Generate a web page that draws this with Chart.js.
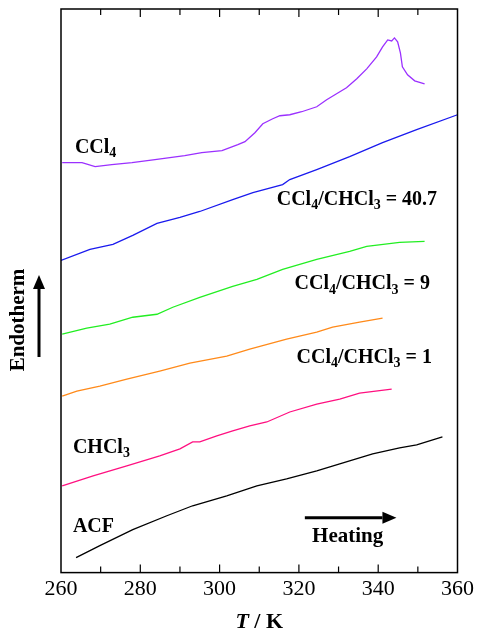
<!DOCTYPE html>
<html>
<head>
<meta charset="utf-8">
<script src="https://cdn.jsdelivr.net/npm/chart.js@4.4.1/dist/chart.umd.min.js"></script>
<style>
  html, body { margin: 0; padding: 0; background: #fff; }
  #wrap { width: 477px; height: 635px; }
</style>
</head>
<body>
<div id="wrap"><canvas id="dsc"></canvas></div>
<script>
// DSC heating curves, arbitrary heat-flow units (curves offset vertically)
const ccl4T = [260.3, 265.3, 268.6, 272.8, 277.9, 283.7, 291.2, 295.5, 300.6, 304.6, 306.4, 308.9, 310.9, 313.4, 315.2, 317.7, 320.7, 324.5, 327.0, 329.5, 332.0, 334.6, 337.1, 339.6, 341.1, 342.4, 343.4, 344.1, 344.9, 345.6, 346.1, 347.4, 349.2, 351.7];
const ccl4Y = [41.1, 41.1, 40.7, 40.9, 41.1, 41.4, 41.8, 42.1, 42.3, 42.9, 43.2, 44.1, 45.0, 45.5, 45.8, 45.9, 46.2, 46.7, 47.4, 48.0, 48.6, 49.5, 50.5, 51.7, 52.7, 53.4, 53.3, 53.6, 53.2, 52.1, 50.7, 49.9, 49.3, 49.0];

const r407T = [260, 267.3, 273.1, 278.1, 284.2, 290.0, 295.0, 303.3, 308.4, 315.9, 317.7, 324.5, 332.8, 341.1, 349.7, 360];
const r407Y = [31.3, 32.4, 32.9, 33.8, 35.0, 35.6, 36.2, 37.4, 38.1, 38.9, 39.4, 40.4, 41.7, 43.1, 44.4, 45.9];

const r9T = [260.3, 266.5, 272.3, 278.1, 284.2, 288.2, 295.0, 303.3, 309.4, 315.9, 324.5, 332.8, 337.1, 345.4, 351.7];
const r9Y = [23.9, 24.5, 24.9, 25.6, 25.9, 26.6, 27.6, 28.7, 29.4, 30.4, 31.4, 32.2, 32.7, 33.1, 33.2];

const r1T = [260.3, 264.0, 269.8, 276.6, 284.9, 292.5, 301.8, 307.6, 316.9, 324.5, 328.5, 335.3, 341.1];
const r1Y = [17.7, 18.2, 18.7, 19.4, 20.2, 21.0, 21.7, 22.4, 23.4, 24.1, 24.6, 25.1, 25.5];

const chcl3T = [260.3, 268.1, 276.6, 284.9, 290.0, 293.2, 295.0, 299.3, 303.3, 307.6, 311.9, 317.7, 324.5, 330.3, 335.3, 343.4];
const chcl3Y = [8.7, 9.7, 10.7, 11.7, 12.4, 13.1, 13.1, 13.7, 14.2, 14.7, 15.1, 16.1, 16.9, 17.4, 18.0, 18.4];

const acfT = [263.8, 269.8, 278.1, 286.7, 293.2, 301.8, 309.4, 316.9, 324.5, 330.3, 338.6, 345.4, 349.7, 356.2];
const acfY = [1.5, 2.7, 4.3, 5.7, 6.7, 7.7, 8.7, 9.4, 10.2, 10.9, 11.9, 12.5, 12.8, 13.6];

const xTicks = [260, 280, 300, 320, 340, 360];

const series = [
  { name: 'CCl4', t: ccl4T, y: ccl4Y, color: '#9b30ff' },
  { name: 'CCl4/CHCl3 = 40.7', t: r407T, y: r407Y, color: '#1a1aee' },
  { name: 'CCl4/CHCl3 = 9', t: r9T, y: r9Y, color: '#22ee22' },
  { name: 'CCl4/CHCl3 = 1', t: r1T, y: r1Y, color: '#ff8a1a' },
  { name: 'CHCl3', t: chcl3T, y: chcl3Y, color: '#ff1080' },
  { name: 'ACF', t: acfT, y: acfY, color: '#000000' }
];

// curve labels: [x (K), y, text parts]  parts: [text, isSubscript]
const labels = [
  [263.5, 42.6, [['CCl', 0], ['4', 1]]],
  [314.4, 37.4, [['CCl', 0], ['4', 1], ['/CHCl', 0], ['3', 1], [' = 40.7', 0]]],
  [318.9, 28.9, [['CCl', 0], ['4', 1], ['/CHCl', 0], ['3', 1], [' = 9', 0]]],
  [319.4, 21.5, [['CCl', 0], ['4', 1], ['/CHCl', 0], ['3', 1], [' = 1', 0]]],
  [263.0, 12.5, [['CHCl', 0], ['3', 1]]],
  [263.0, 4.6, [['ACF', 0]]]
];

const SERIF = '"Liberation Serif", "DejaVu Serif", serif';

function drawParts(ctx, x, y, parts, size) {
  let cx = x;
  parts.forEach(p => {
    ctx.font = 'bold ' + (p[1] ? Math.round(size * 0.68) : size) + 'px ' + SERIF;
    ctx.fillText(p[0], cx, p[1] ? y + size * 0.28 : y);
    cx += ctx.measureText(p[0]).width;
  });
}

function arrow(ctx, x1, y1, x2, y2) {
  const a = Math.atan2(y2 - y1, x2 - x1);
  const hl = 14, hw = 6;
  const bx = x2 - hl * Math.cos(a), by = y2 - hl * Math.sin(a);
  ctx.beginPath();
  ctx.moveTo(x1, y1);
  ctx.lineTo(bx, by);
  ctx.lineWidth = 3;
  ctx.stroke();
  ctx.beginPath();
  ctx.moveTo(x2, y2);
  ctx.lineTo(bx + hw * Math.sin(a), by - hw * Math.cos(a));
  ctx.lineTo(bx - hw * Math.sin(a), by + hw * Math.cos(a));
  ctx.closePath();
  ctx.fill();
}

const decor = {
  id: 'decor',
  afterDraw(chart) {
    const ctx = chart.ctx;
    const xs = chart.scales.x, ys = chart.scales.y;
    const a = chart.chartArea;
    ctx.save();
    ctx.strokeStyle = '#000';
    ctx.fillStyle = '#000';
    // frame
    ctx.lineWidth = 1.5;
    ctx.strokeRect(a.left, a.top, a.right - a.left, a.bottom - a.top);
    // inward ticks every 10 K, top and bottom
    ctx.lineWidth = 1.2;
    for (let t = 270; t < 360; t += 10) {
      const px = xs.getPixelForValue(t);
      const len = (t % 20 === 0) ? 8 : 6;
      ctx.beginPath();
      ctx.moveTo(px, a.bottom); ctx.lineTo(px, a.bottom - len);
      ctx.moveTo(px, a.top); ctx.lineTo(px, a.top + len);
      ctx.stroke();
    }
    // curve labels
    ctx.textBaseline = 'middle';
    ctx.textAlign = 'left';
    labels.forEach(l => drawParts(ctx, xs.getPixelForValue(l[0]), ys.getPixelForValue(l[1]), l[2], 20));
    // heating arrow
    arrow(ctx, xs.getPixelForValue(321.5), ys.getPixelForValue(5.5), xs.getPixelForValue(344.6), ys.getPixelForValue(5.5));
    ctx.textAlign = 'center';
    ctx.font = 'bold 21px ' + SERIF;
    ctx.fillText('Heating', xs.getPixelForValue(332.3), ys.getPixelForValue(3.6));
    // endotherm
    arrow(ctx, 39, 357, 39, 275);
    ctx.save();
    ctx.translate(19, 320);
    ctx.rotate(-Math.PI / 2);
    ctx.font = 'bold 21px ' + SERIF;
    ctx.fillText('Endotherm', 0, 0);
    ctx.restore();
    // x-axis title: T / K
    ctx.textAlign = 'left';
    ctx.font = 'bold italic 22px ' + SERIF;
    const wT = ctx.measureText('T').width;
    ctx.font = 'bold 22px ' + SERIF;
    const wR = ctx.measureText(' / K').width;
    const cx = (a.left + a.right) / 2 - (wT + wR) / 2;
    ctx.font = 'bold italic 22px ' + SERIF;
    ctx.fillText('T', cx, 622);
    ctx.font = 'bold 22px ' + SERIF;
    ctx.fillText(' / K', cx + wT, 622);
    ctx.restore();
  }
};

new Chart(document.getElementById('dsc'), {
  type: 'line',
  data: {
    datasets: series.map(s => ({
      label: s.name,
      data: s.t.map((t, i) => ({ x: t, y: s.y[i] })),
      borderColor: s.color,
      borderWidth: 1.3,
      pointRadius: 0,
      tension: 0,
      fill: false
    }))
  },
  options: {
    responsive: true,
    maintainAspectRatio: false,
    animation: false,
    layout: { padding: { left: 61, top: 9, right: 19, bottom: 30 } },
    plugins: { legend: { display: false }, tooltip: { enabled: false } },
    scales: {
      x: {
        type: 'linear',
        min: 260,
        max: 360,
        afterBuildTicks: s => { s.ticks = xTicks.map(v => ({ value: v })); },
        ticks: { color: '#000', padding: 3, font: { family: SERIF, size: 22 } },
        grid: { display: false, drawTicks: false },
        border: { display: false }
      },
      y: {
        display: false,
        min: 0,
        max: 56.5
      }
    }
  },
  plugins: [decor]
});
</script>
</body>
</html>
